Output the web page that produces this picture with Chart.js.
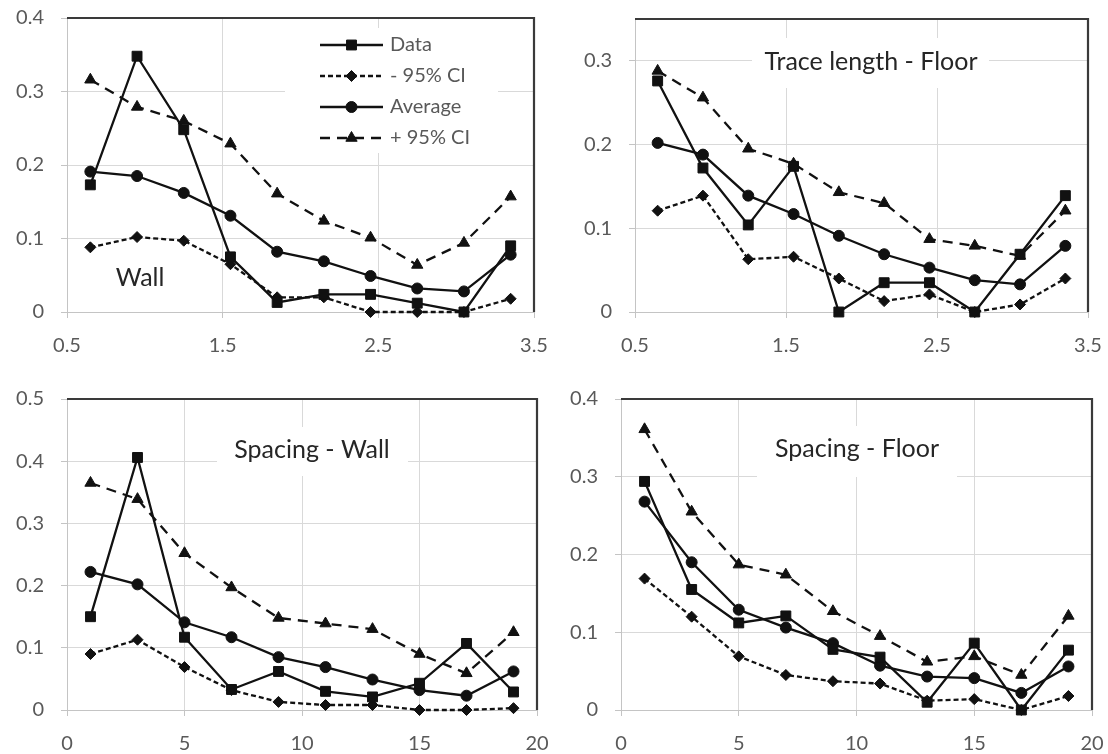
<!DOCTYPE html>
<html>
<head>
<meta charset="utf-8">
<script src="https://cdn.jsdelivr.net/npm/chart.js@4.4.1/dist/chart.umd.min.js"></script>
<style>
  body { margin:0; background:#fff; width:1108px; height:754px; position:relative; overflow:hidden; }
  canvas { position:absolute; }
</style>
</head>
<body>
<canvas id="c1" width="554" height="380" style="left:0;top:0"></canvas>
<canvas id="c2" width="554" height="380" style="left:554px;top:0"></canvas>
<canvas id="c3" width="554" height="374" style="left:0;top:380px"></canvas>
<canvas id="c4" width="554" height="374" style="left:554px;top:380px"></canvas>
<script>
// x positions (bin centres)
const traceX   = [0.65, 0.95, 1.25, 1.55, 1.85, 2.15, 2.45, 2.75, 3.05, 3.35];
const spacingX = [1, 3, 5, 7, 9, 11, 13, 15, 17, 19];

const seriesLabels = ['Data', '- 95% CI', 'Average', '+ 95% CI'];

// Trace length - Wall
const tlWallData  = [0.173, 0.348, 0.248, 0.075, 0.013, 0.024, 0.024, 0.012, 0.000, 0.090];
const tlWallLow   = [0.088, 0.102, 0.097, 0.065, 0.020, 0.020, 0.000, 0.000, 0.000, 0.018];
const tlWallAvg   = [0.191, 0.185, 0.162, 0.131, 0.082, 0.069, 0.049, 0.032, 0.028, 0.078];
const tlWallHigh  = [0.316, 0.279, 0.260, 0.229, 0.161, 0.124, 0.101, 0.064, 0.094, 0.157];

// Trace length - Floor
const tlFloorData = [0.276, 0.172, 0.104, 0.174, 0.000, 0.035, 0.035, 0.000, 0.069, 0.139];
const tlFloorLow  = [0.121, 0.139, 0.063, 0.066, 0.040, 0.013, 0.021, 0.000, 0.009, 0.040];
const tlFloorAvg  = [0.202, 0.188, 0.139, 0.117, 0.091, 0.069, 0.053, 0.038, 0.033, 0.079];
const tlFloorHigh = [0.288, 0.256, 0.195, 0.177, 0.143, 0.130, 0.087, 0.079, 0.067, 0.121];

// Spacing - Wall
const spWallData  = [0.150, 0.406, 0.117, 0.033, 0.062, 0.030, 0.021, 0.043, 0.107, 0.029];
const spWallLow   = [0.090, 0.113, 0.069, 0.032, 0.013, 0.008, 0.008, 0.000, 0.000, 0.003];
const spWallAvg   = [0.222, 0.202, 0.141, 0.117, 0.085, 0.069, 0.049, 0.032, 0.023, 0.062];
const spWallHigh  = [0.365, 0.339, 0.252, 0.197, 0.148, 0.139, 0.130, 0.090, 0.059, 0.125];

// Spacing - Floor
const spFloorData = [0.294, 0.155, 0.112, 0.121, 0.078, 0.068, 0.010, 0.086, 0.000, 0.077];
const spFloorLow  = [0.169, 0.120, 0.069, 0.045, 0.037, 0.034, 0.012, 0.014, 0.000, 0.018];
const spFloorAvg  = [0.268, 0.190, 0.129, 0.106, 0.086, 0.057, 0.043, 0.041, 0.022, 0.056];
const spFloorHigh = [0.361, 0.255, 0.187, 0.174, 0.127, 0.095, 0.062, 0.069, 0.045, 0.121];

const FONT = 'Lato, "Liberation Sans", sans-serif';
const INK = '#111';
Chart.defaults.font.family = FONT;

// marker + dash per series (Excel look)
const seriesStyle = [
  { pointStyle:'rect',     pointRadius:7,   dash:[] },
  { pointStyle:'rectRot',  pointRadius:5.5, dash:[5,3] },
  { pointStyle:'circle',   pointRadius:5.5, dash:[] },
  { pointStyle:'triangle', pointRadius:6.5, dash:[10,7] }
];

function makeDatasets(xs, seriesList){
  return seriesList.map((ys, i) => ({
    label: seriesLabels[i],
    data: ys.map((y, k) => ({ x: xs[k], y: y })),
    borderColor: INK, backgroundColor: INK,
    borderWidth: 2.3, borderDash: seriesStyle[i].dash,
    pointStyle: seriesStyle[i].pointStyle, pointRadius: seriesStyle[i].pointRadius,
    pointBorderWidth: 1, pointBackgroundColor: INK, pointBorderColor: INK,
    tension: 0, clip: false
  }));
}

// white label boxes, titles, in-plot legend, dark top/right frame
const panelDeco = {
  id: 'panelDeco',
  beforeDatasetsDraw(chart, args, o){
    const ctx = chart.ctx;
    ctx.save();
    if (o.box){ ctx.fillStyle = '#fff'; ctx.fillRect(o.box[0], o.box[1], o.box[2], o.box[3]); }
    if (o.legend){ const L = o.legend; ctx.fillStyle = '#fff'; ctx.fillRect(L.box[0], L.box[1], L.box[2], L.box[3]); }
    if (o.text){
      ctx.fillStyle = '#262626'; ctx.font = '25px ' + FONT;
      ctx.textAlign = 'center'; ctx.textBaseline = 'middle';
      ctx.fillText(o.text, o.tx, o.ty);
    }
    ctx.restore();
  },
  afterDatasetsDraw(chart, args, o){
    if (!o.legend) return;
    const ctx = chart.ctx, L = o.legend;
    ctx.save();
    chart.data.datasets.forEach((ds, i) => {
      const y = L.rows[i];
      ctx.strokeStyle = INK; ctx.lineWidth = ds.borderWidth;
      ctx.setLineDash(ds.borderDash || []);
      ctx.beginPath(); ctx.moveTo(L.x0, y); ctx.lineTo(L.x1, y); ctx.stroke();
      ctx.setLineDash([]);
      ctx.fillStyle = INK; ctx.lineWidth = 1;
      Chart.helpers.drawPoint(ctx, { pointStyle: ds.pointStyle, radius: ds.pointRadius, borderWidth: 1, rotation: 0 }, (L.x0 + L.x1) / 2, y);
      ctx.fillStyle = '#595959'; ctx.font = '20px ' + FONT;
      ctx.textAlign = 'left'; ctx.textBaseline = 'middle';
      ctx.fillText(ds.label, L.tx, y);
    });
    ctx.restore();
  },
  afterDraw(chart){
    const a = chart.chartArea, ctx = chart.ctx;
    ctx.save();
    ctx.strokeStyle = '#3a3a3a'; ctx.lineWidth = 2.2;
    ctx.beginPath(); ctx.moveTo(a.left, a.top); ctx.lineTo(a.right, a.top); ctx.lineTo(a.right, a.bottom); ctx.stroke();
    ctx.restore();
  }
};

function buildPanel(id, xs, series, xCfg, yMax, area, deco){
  const cv = document.getElementById(id);
  const W = cv.width, H = cv.height;
  new Chart(cv.getContext('2d'), {
    type: 'line',
    data: { datasets: makeDatasets(xs, series) },
    plugins: [panelDeco],
    options: {
      responsive: false, animation: false, devicePixelRatio: 1,
      layout: { padding: { left: 0, top: area.top, right: W - area.right, bottom: 0 } },
      plugins: { legend: { display: false }, tooltip: { enabled: false }, panelDeco: deco },
      scales: {
        x: {
          type: 'linear', min: xCfg.min, max: xCfg.max,
          ticks: { stepSize: xCfg.step, color: '#595959', font: { size: 20 }, padding: 16,
                   callback: v => String(Math.round(v * 100) / 100) },
          grid: { color: '#d9d9d9', lineWidth: 1, drawTicks: true, tickLength: 6, tickColor: '#c4c4c4' },
          border: { color: '#c4c4c4', width: 1 },
          afterFit: s => { s.height = H - area.bottom; s.paddingLeft = 0; s.paddingRight = 0; }
        },
        y: {
          min: 0, max: yMax,
          ticks: { stepSize: 0.1, color: '#595959', font: { size: 20 }, padding: 17,
                   callback: v => String(Math.round(v * 100) / 100) },
          afterBuildTicks: s => { s.ticks = s.ticks.filter(t => Math.abs(t.value * 10 - Math.round(t.value * 10)) < 1e-6); },
          grid: { color: '#d9d9d9', lineWidth: 1, drawTicks: true, tickLength: 6, tickColor: '#c4c4c4' },
          border: { color: '#c4c4c4', width: 1 },
          afterFit: s => { s.width = area.left; s.paddingTop = 0; s.paddingBottom = 0; }
        }
      }
    }
  });
}

buildPanel('c1', traceX, [tlWallData, tlWallLow, tlWallAvg, tlWallHigh],
  { min: 0.5, max: 3.5, step: 1 }, 0.4,
  { left: 67, right: 534, top: 18, bottom: 312 },
  { text: 'Wall', tx: 140, ty: 278,
    legend: { box: [285, 28, 213, 125], x0: 320, x1: 383, tx: 390, rows: [45, 76, 107, 138] } });

buildPanel('c2', traceX, [tlFloorData, tlFloorLow, tlFloorAvg, tlFloorHigh],
  { min: 0.5, max: 3.5, step: 1 }, 0.35,
  { left: 81, right: 534, top: 19, bottom: 312 },
  { text: 'Trace length - Floor', tx: 317, ty: 62, box: [198, 38, 237, 50] });

buildPanel('c3', spacingX, [spWallData, spWallLow, spWallAvg, spWallHigh],
  { min: 0, max: 20, step: 5 }, 0.5,
  { left: 67, right: 537, top: 19, bottom: 330 },
  { text: 'Spacing - Wall', tx: 312, ty: 70, box: [217, 47, 191, 49] });

buildPanel('c4', spacingX, [spFloorData, spFloorLow, spFloorAvg, spFloorHigh],
  { min: 0, max: 20, step: 5 }, 0.4,
  { left: 67, right: 538, top: 19, bottom: 330 },
  { text: 'Spacing - Floor', tx: 303, ty: 69, box: [203, 46, 200, 51] });
</script>
</body>
</html>
